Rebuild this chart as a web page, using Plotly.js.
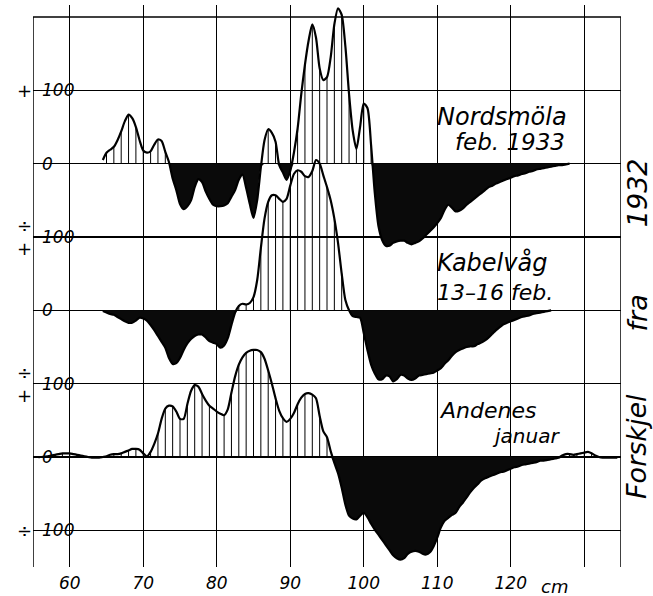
<!DOCTYPE html>
<html>
<head>
<meta charset="utf-8">
<script src="https://cdn.plot.ly/plotly-3.0.1.min.js"></script>
<style>html,body{margin:0;padding:0;background:#fff;}#chart{width:653px;height:596px;}</style>
</head>
<body>
<div id="chart"></div>
<script>
// x in cm, step 0.5 cm; values = difference from 1932
const STEP = 0.5;
const nordStart = 64.5;
const nordVals = [5,15,19,23,32,44,58,67,62,50,32,18,15,17,26,33,31,16,2,-20,-36,-55,-62,-58,-50,-32,-21,-25,-38,-48,-56,-58,-58,-57,-54,-45,-36,-22,-15,-33,-55,-74,-50,-5,32,47,42,30,-2,-12,-22,-10,15,48,95,135,168,190,172,130,114,118,145,190,212,203,160,95,45,20,50,82,76,25,-40,-85,-104,-112,-112,-108,-106,-105,-105,-108,-110,-108,-106,-102,-97,-92,-87,-81,-74,-63,-56,-60,-65,-64,-61,-56,-52,-48,-44,-40,-36,-32,-30,-27,-25,-23,-21,-19,-17,-16,-14,-13,-11,-10,-8,-7,-6,-5,-4,-3,-2,-2,-1,0];

const kabStart = 64.5;
const kabVals = [-1,-3,-5,-6,-9,-12,-15,-17,-17,-14,-10,-11,-14,-20,-27,-35,-43,-51,-65,-73,-72,-65,-54,-45,-39,-35,-33,-33,-37,-42,-44,-46,-51,-48,-38,-20,-3,6,9,8,10,18,41,85,125,148,157,157,152,148,152,170,186,191,189,183,182,190,205,200,184,168,150,125,92,50,14,0,-8,-9,-10,-31,-54,-74,-86,-94,-94,-89,-90,-97,-94,-88,-89,-93,-95,-93,-89,-88,-87,-86,-85,-82,-79,-73,-68,-62,-57,-54,-52,-50,-49,-49,-46,-44,-41,-37,-32,-27,-23,-19,-17,-15,-13,-11,-9,-8,-7,-5,-4,-3,-2,-1,0];

const andStart = 55;
const andVals = [0,0,0,0.5,1,2,3,4,5,5,5,4,3,2,1,0,-1,-1,-1,0,1,3,4,4,5,7,9,11,11,10,5,1,7,18,32,52,66,70,69,62,52,52,72,90,98,96,86,77,70,66,62,59,57,65,88,110,126,136,142,145,146,146,143,134,118,100,80,63,53,48,52,60,72,81,86,87,85,80,56,35,27,8,-8,-22,-42,-65,-80,-84,-85,-80,-76,-82,-91,-99,-106,-113,-120,-127,-134,-138,-140,-138,-132,-129,-128,-129,-132,-133,-130,-122,-110,-96,-87,-83,-79,-76,-68,-62,-55,-48,-42,-37,-32,-29,-27,-25,-23,-21,-20,-18,-16,-14,-13,-11,-10,-9,-8,-7,-5,-5,-4,-3,-2,-1,2,4,4,3,4,5,6,7,5,2,0,-1,-1,-1,-1,-1];

const xTickVals = [60,70,80,90,100,110,120,130];
const xTickText = ['60','70','80','90','100','110','120',''];
const yGridVals = [-100,0,100,200,300,400,500];
const ySigns = ['÷','','÷<br>+','','÷<br>+','','+'];
const yNums = ['100','0','100','0','100','0','100'];

const seriesLabels = [
  {text:'Nordsmöla', x:109.7, y:464, size:24},
  {text:'feb. 1933', x:112.2, y:430, size:23},
  {text:'Kabelvåg', x:109.7, y:265, size:24},
  {text:'13–16 feb.', x:109.7, y:224, size:22},
  {text:'Andenes', x:109.9, y:63, size:22},
  {text:'januar', x:117.2, y:29, size:20}
];
const sideWords = [
  {text:'1932', y:360},
  {text:'fra', y:196},
  {text:'Forskjel', y:14}
];

const X0 = 55, X1 = 135, YBOT = -150, YTOP = 600, YEXTRA = 616.4;
const FONT = 'DejaVu Sans';
const traces = [];
function addSeries(start, vals, yax){
  const x = vals.map((_,i)=> start + i*STEP);
  const neg = vals.map(v => Math.min(v,0));
  traces.push({x:x, y:neg, yaxis:yax, mode:'lines', fill:'tozeroy', fillcolor:'#0a0a0a',
    line:{width:0, shape:'spline', smoothing:0.7}, hoverinfo:'skip'});
  const hx=[], hy=[];
  vals.forEach((v,i)=>{
    const xv = x[i];
    if (Number.isInteger(xv) && v > 1) { hx.push(xv,xv,null); hy.push(0,v,null); }
  });
  traces.push({x:hx, y:hy, yaxis:yax, mode:'lines', line:{color:'#000', width:1}, hoverinfo:'skip'});
  traces.push({x:x, y:vals, yaxis:yax, mode:'lines', line:{color:'#000', width:2.2, shape:'spline', smoothing:0.7}, hoverinfo:'skip'});
}
addSeries(andStart, andVals, 'y');
addSeries(kabStart, kabVals, 'y2');
addSeries(nordStart, nordVals, 'y3');

// paper-x helper for labels outside the data range
const px2paper = xv => (xv - X0) / (X1 - X0);
const annotations = [];
yGridVals.forEach((v,i)=>{
  annotations.push({x:yNums[i]==='0'?57:55.9, y:v, xref:'x', yref:'y', text:yNums[i], showarrow:false,
    xanchor:yNums[i]==='0'?'center':'left', yanchor:'middle',
    font:{family:FONT, size:17, style:'italic', color:'#000'}});
  if (ySigns[i]) annotations.push({x:px2paper(53.9), y:v, xref:'paper', yref:'y', text:ySigns[i], showarrow:false,
    xanchor:'center', yanchor:'middle', font:{family:FONT, size:18, color:'#000'}});
});
seriesLabels.forEach(l=>annotations.push({x:l.x, y:l.y, xref:'x', yref:'y', text:l.text, showarrow:false,
  xanchor:'left', yanchor:'middle', font:{family:FONT, size:l.size, style:'italic', color:'#000'}}));
sideWords.forEach(w=>annotations.push({x:px2paper(137.2), y:w.y, xref:'paper', yref:'y', text:w.text, showarrow:false,
  textangle:-90, xanchor:'center', yanchor:'middle', font:{family:FONT, size:27, style:'italic', color:'#000'}}));
annotations.push({x:126, y:0, xref:'x', yref:'paper', text:'cm', showarrow:false, xanchor:'center', yanchor:'top', yshift:-7,
  font:{family:FONT, size:18, style:'italic', color:'#000'}});

const layout = {
  width:653, height:596,
  margin:{l:33, r:32, t:5, b:29, pad:0},
  paper_bgcolor:'#fff', plot_bgcolor:'#fff',
  showlegend:false, hovermode:false,
  xaxis:{range:[X0,X1], tickvals:xTickVals, ticktext:xTickText, showgrid:true, gridcolor:'#000', gridwidth:1.3,
    zeroline:false, showline:false, ticks:'', fixedrange:true, ticklabelstandoff:4,
    tickfont:{family:FONT, size:17, style:'italic', color:'#000'}},
  yaxis:{range:[YBOT,YEXTRA], tickvals:yGridVals, showticklabels:false, showgrid:true, gridcolor:'#000', gridwidth:1.3,
    zeroline:false, showline:false, ticks:''},
  yaxis2:{range:[YBOT-200,YEXTRA-200], overlaying:'y', visible:false},
  yaxis3:{range:[YBOT-400,YEXTRA-400], overlaying:'y', visible:false},
  shapes:[
    {type:'rect', xref:'paper', yref:'y', x0:-0.01, x1:1.01, y0:YTOP, y1:YEXTRA, layer:'between', fillcolor:'#fff', line:{width:0}},
    {type:'line', xref:'x', yref:'y', x0:X0, x1:X1, y0:YTOP, y1:YTOP, line:{color:'#000', width:1.5}},
    {type:'line', xref:'x', yref:'y', x0:X0, x1:X0, y0:YBOT, y1:YTOP, line:{color:'#000', width:1.5}},
    {type:'line', xref:'x', yref:'y', x0:X1, x1:X1, y0:YBOT, y1:YTOP, line:{color:'#000', width:1.5}}
  ],
  annotations:annotations
};
Plotly.newPlot('chart', traces, layout, {displayModeBar:false, staticPlot:true});
</script>
</body>
</html>
